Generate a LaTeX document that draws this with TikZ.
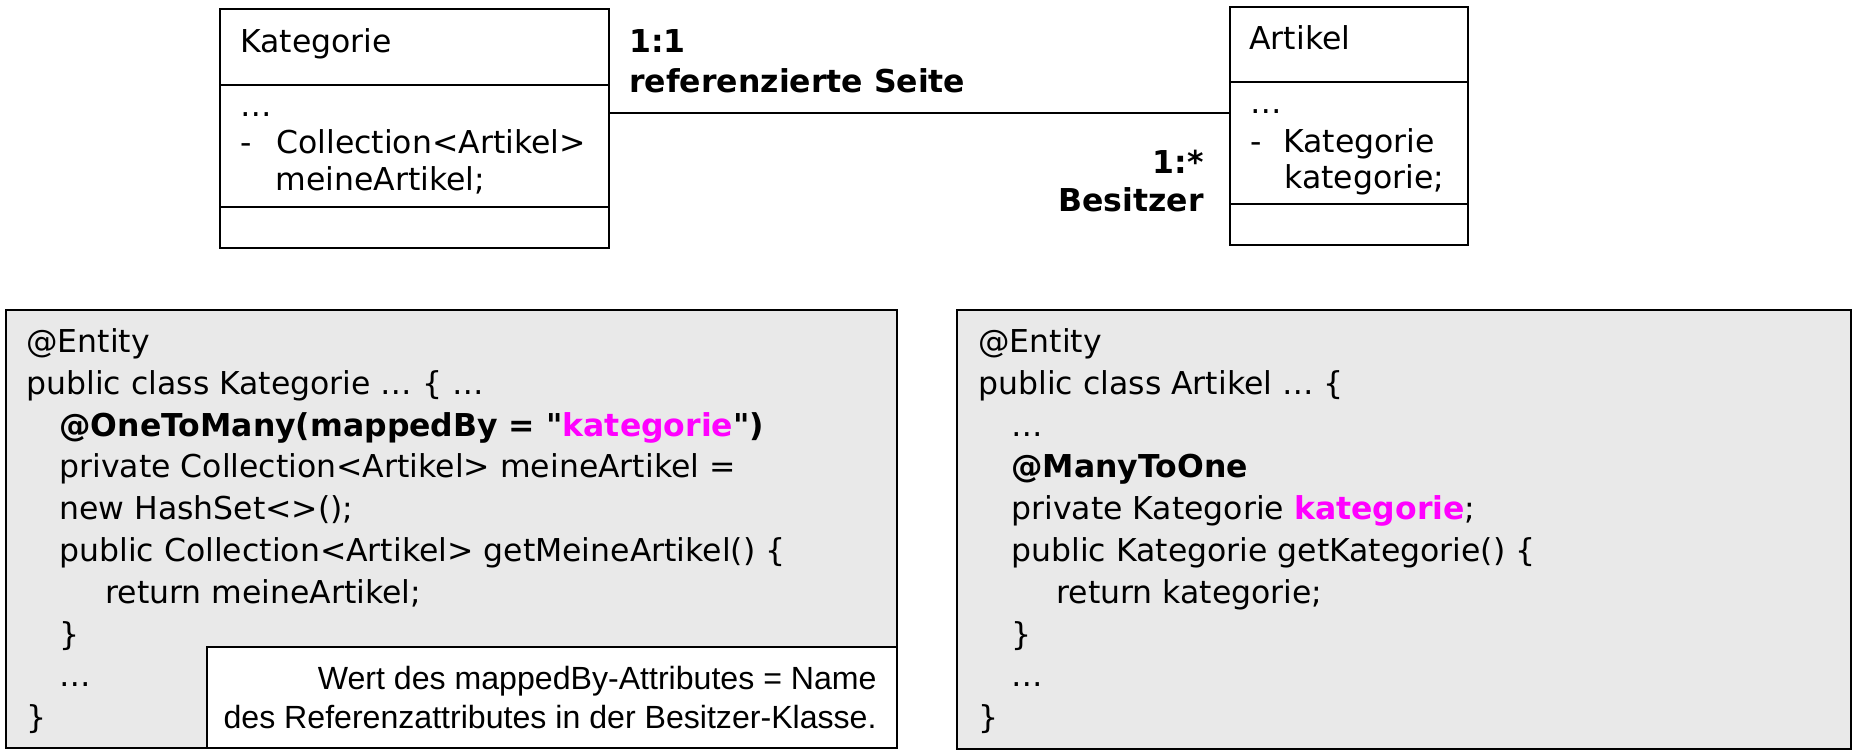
\documentclass[tikz,border=0pt]{standalone}
\usepackage{fontspec}
\setmainfont[Ligatures=TeXOff]{DejaVu Sans}
\newfontfamily\notefont{Liberation Sans}
\usetikzlibrary{positioning}
\definecolor{codegray}{RGB}{233,233,233}
\definecolor{keyword}{RGB}{255,0,255}
\tikzset{
    classbox/.style={draw, line width=0.7pt, inner sep=0pt},
    classline/.style={line width=0.7pt},
    codebox/.style={draw, line width=1pt, fill=codegray, inner sep=0pt},
    notebox/.style={draw, line width=1pt, fill=white, inner sep=0pt},
    codeline/.style={anchor=base west, inner sep=0pt, font=\fontsize{15.75}{21}\selectfont},
    noteline/.style={anchor=base east, inner sep=0pt, font=\notefont\fontsize{16.05}{19.5}\selectfont},
    multlabel/.style={inner sep=0pt, font=\bfseries\fontsize{15.75}{21}\selectfont},
    assoc/.style={line width=0.7pt}
}

\begin{document}
\begin{tikzpicture}[x=0.5pt, y=-0.5pt]
    \useasboundingbox (0,0) rectangle (1858,751);

    % UML-Klassen
    \node[classbox, minimum width=194.5pt, minimum height=119.5pt] (kat) at (414.5,128.5) {};
    \draw[classline] (kat.west |- 0,85) -- (kat.east |- 0,85);
    \draw[classline] (kat.west |- 0,207) -- (kat.east |- 0,207);
    \node[codeline] (katname) at (240,52.5) {Kategorie};
    \node[codeline] (katdots) at (240,116) {…};
    \node[codeline] (katattr) at (240,153) {-\hspace{12.3pt}Collection<Artikel>};
    \node[codeline] (katattrb) at (275,190) {meineArtikel;};

    \node[classbox, minimum width=119pt, minimum height=119pt] (art) at (1349,126) {};
    \draw[classline] (art.west |- 0,82) -- (art.east |- 0,82);
    \draw[classline] (art.west |- 0,204) -- (art.east |- 0,204);
    \node[codeline] (artname) at (1249,49.5) {Artikel};
    \node[codeline] (artdots) at (1250,113) {…};
    \node[codeline] (artattr) at (1250,152) {-\hspace{10.8pt}Kategorie};
    \node[codeline] (artattrb) at (1284,188) {kategorie;};

    % Assoziation
    \draw[assoc] (kat.east |- 0,113) -- (art.west |- 0,113);
    \node[multlabel, anchor=base west] (one) at (629,52.5) {1:1};
    \node[multlabel, anchor=base west] (refside) at (629,92.5) {referenzierte Seite};
    \node[multlabel, anchor=base east] (many) at (1204,173.5) {1:*};
    \node[multlabel, anchor=base east] (owner) at (1204,211.5) {Besitzer};

    % Code Kategorie
    \node[codebox, minimum width=445.5pt, minimum height=219pt] (codeK) at (451.5,529) {};
    \node[codeline] (k1) at (26,352.5) {@Entity};
    \node[codeline] (k2) at (26,394.3) {public class Kategorie … \{ …};
    \node[codeline] (k3) at (59,436.1) {\textbf{@OneToMany(mappedBy = "\textcolor{keyword}{kategorie}")}};
    \node[codeline] (k4) at (59,477.9) {private Collection<Artikel> meineArtikel =};
    \node[codeline] (k5) at (59,519.7) {new HashSet<>();};
    \node[codeline] (k6) at (59,561.5) {public Collection<Artikel> getMeineArtikel() \{};
    \node[codeline] (k7) at (105,603.3) {return meineArtikel;};
    \node[codeline] (k8) at (59,645.1) {\}};
    \node[codeline] (k9) at (59,686.9) {…};
    \node[codeline] (k10) at (26,728.7) {\}};

    % Hinweis
    \node[notebox, minimum width=345pt, minimum height=50.5pt] (note) at (552,697.5) {};
    \node[noteline] (n1) at (877,689) {Wert des mappedBy-Attributes = Name};
    \node[noteline] (n2) at (877,728) {des Referenzattributes in der Besitzer-Klasse.};

    % Code Artikel
    \node[codebox, minimum width=447pt, minimum height=219.5pt] (codeA) at (1404,529.5) {};
    \node[codeline] (a1) at (978,352.5) {@Entity};
    \node[codeline] (a2) at (978,394.3) {public class Artikel … \{};
    \node[codeline] (a3) at (1011,436.1) {…};
    \node[codeline] (a4) at (1011,477.9) {\textbf{@ManyToOne}};
    \node[codeline] (a5) at (1011,519.7) {private Kategorie \textbf{\textcolor{keyword}{kategorie}};};
    \node[codeline] (a6) at (1011,561.5) {public Kategorie getKategorie() \{};
    \node[codeline] (a7) at (1056,603.3) {return kategorie;};
    \node[codeline] (a8) at (1011,645.1) {\}};
    \node[codeline] (a9) at (1011,686.9) {…};
    \node[codeline] (a10) at (978,728.7) {\}};
\end{tikzpicture}
\end{document}
